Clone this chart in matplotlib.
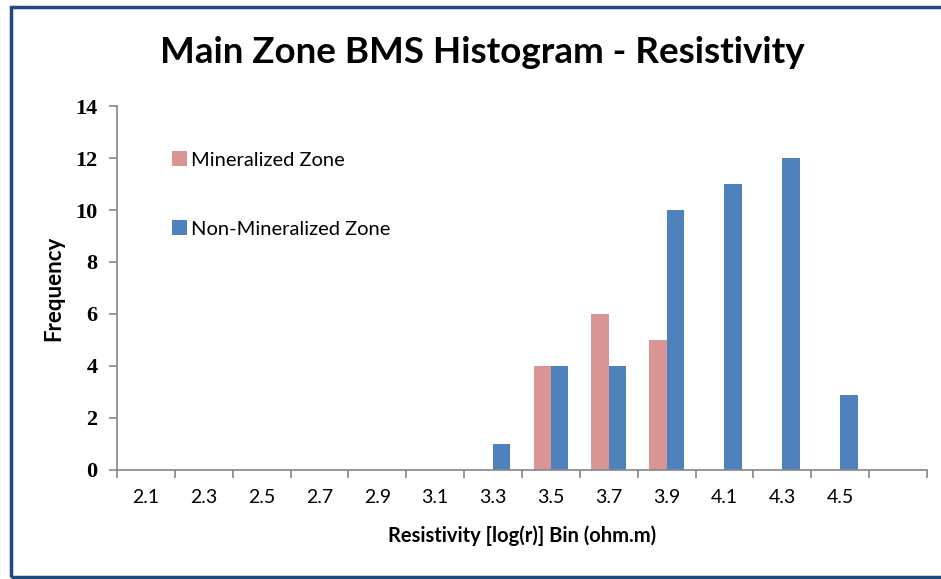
"""Main Zone BMS histogram of resistivity, Excel-style clustered bars."""

import matplotlib
matplotlib.use("Agg")
import matplotlib.pyplot as plt
import numpy as np
from matplotlib.patches import Rectangle

BINS = ["2.1", "2.3", "2.5", "2.7", "2.9", "3.1", "3.3", "3.5",
        "3.7", "3.9", "4.1", "4.3", "4.5", ""]
MINERALIZED = [0, 0, 0, 0, 0, 0, 0, 4, 6, 5, 0, 0, 0, 0]
NON_MINERALIZED = [0, 0, 0, 0, 0, 0, 1, 4, 4, 10, 11, 12, 2.9, 0]
Y_TICKS = [0, 2, 4, 6, 8, 10, 12, 14]

PINK = "#D99594"
BLUE = "#4F81BD"
AXIS_GRAY = "#868686"
FRAME = "#1F497D"

fig = plt.figure(figsize=(9.41, 5.79), dpi=100)
ax = fig.add_axes([0.1243, 0.1883, 0.8608, 0.6286])

x = np.arange(len(BINS))
w = 0.3
ax.bar(x - w / 2, MINERALIZED, width=w, color=PINK, label="Mineralized Zone")
ax.bar(x + w / 2, NON_MINERALIZED, width=w, color=BLUE, label="Non-Mineralized Zone")

ax.set_xlim(-0.5, len(BINS) - 0.5)
ax.set_ylim(0, 14)
ax.set_yticks(Y_TICKS)
ax.set_yticklabels([str(t) for t in Y_TICKS], family="Liberation Serif",
                   fontweight="bold", fontsize=16)
ax.set_xticks(x)
ax.set_xticklabels(BINS, family="Lato", fontsize=14)
ax.set_xticks(np.arange(-0.5, len(BINS)), minor=True)
ax.tick_params(axis="x", which="major", length=0, pad=14)
ax.tick_params(axis="x", which="minor", length=6, width=1.2, color=AXIS_GRAY,
               direction="out")
ax.tick_params(axis="y", length=6, width=1.2, color=AXIS_GRAY, pad=8)

for side in ("top", "right"):
    ax.spines[side].set_visible(False)
for side in ("left", "bottom"):
    ax.spines[side].set_color(AXIS_GRAY)
    ax.spines[side].set_linewidth(1.2)

ax.set_xlabel("Resistivity [log(r)] Bin (ohm.m)", family="Lato",
              fontweight="bold", fontsize=14.5, labelpad=14)
ax.set_ylabel("Frequency", family="Lato", fontweight="bold", fontsize=16,
              labelpad=8)

leg = ax.legend(loc="upper left", bbox_to_anchor=(0.046, 0.925), frameon=False,
                prop={"family": "Lato", "size": 14.5}, handlelength=0.75,
                handleheight=0.75, handletextpad=0.2, labelspacing=2.55)

fig.text(0.513, 0.91, "Main Zone BMS Histogram - Resistivity", ha="center",
         va="center", family="Lato", fontweight="bold", fontsize=26.5)

# dark blue frame around the chart area
fig.patches.append(Rectangle((0.0117, 0.0043), 1.2, 0.9837, transform=fig.transFigure,
                             fill=False, edgecolor=FRAME, linewidth=2.5))

fig.savefig("out.png", dpi=100)
